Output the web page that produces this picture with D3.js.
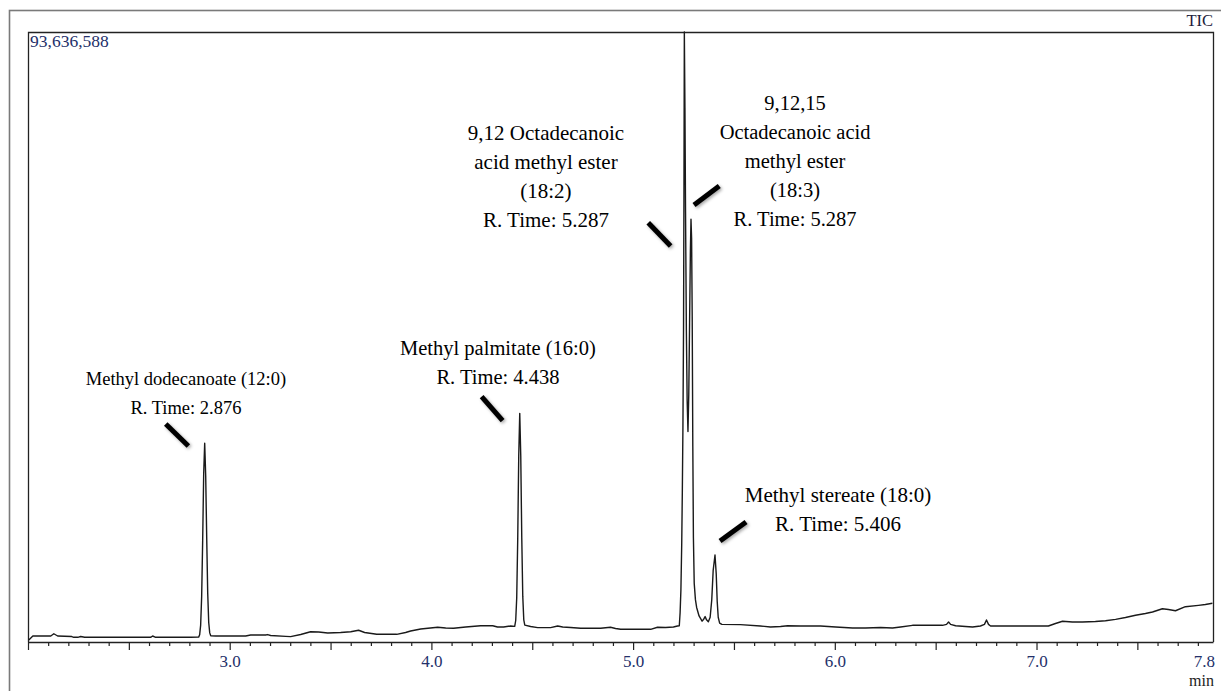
<!DOCTYPE html>
<html>
<head>
<meta charset="utf-8">
<script src="https://cdn.jsdelivr.net/npm/d3@7"></script>
<style>
  html, body { margin: 0; padding: 0; background: #fff; }
  svg { display: block; }
  text { font-family: "Liberation Serif", "Times New Roman", serif; }
</style>
</head>
<body>
<svg id="chart" width="1221" height="691"></svg>
<script>
// Total ion chromatogram (TIC) of fatty-acid methyl esters
// retention time in minutes
const retTime = [
  2.004, 2.024, 2.113, 2.128, 2.147, 2.217, 2.227, 2.247, 2.261, 2.281,
  2.460, 2.608, 2.618, 2.633, 2.807, 2.846, 2.851, 2.856, 2.861, 2.866,
  2.871, 2.876, 2.881, 2.886, 2.891, 2.896, 2.901, 2.906, 2.931, 3.079,
  3.104, 3.178, 3.188, 3.203, 3.278, 3.302, 3.352, 3.401, 3.441, 3.486,
  3.550, 3.600, 3.639, 3.669, 3.729, 3.828, 3.872, 3.897, 3.947, 4.031,
  4.071, 4.110, 4.170, 4.244, 4.304, 4.328, 4.358, 4.393, 4.413, 4.418,
  4.423, 4.428, 4.433, 4.438, 4.443, 4.448, 4.453, 4.458, 4.463, 4.492,
  4.527, 4.591, 4.626, 4.651, 4.690, 4.740, 4.839, 4.888, 4.913, 4.938,
  5.087, 5.121, 5.161, 5.200, 5.220, 5.229, 5.233, 5.237, 5.241, 5.244,
  5.247, 5.250, 5.252, 5.254, 5.257, 5.260, 5.264, 5.268, 5.272, 5.276,
  5.280, 5.284, 5.287, 5.290, 5.293, 5.296, 5.299, 5.303, 5.309, 5.315,
  5.327, 5.342, 5.350, 5.357, 5.364, 5.373, 5.382, 5.390, 5.397, 5.406,
  5.412, 5.417, 5.422, 5.429, 5.440, 5.532, 5.631, 5.681, 5.731, 5.766,
  5.830, 5.929, 6.004, 6.088, 6.152, 6.227, 6.286, 6.326, 6.385, 6.475,
  6.534, 6.554, 6.564, 6.574, 6.599, 6.648, 6.683, 6.722, 6.742, 6.752,
  6.762, 6.772, 6.871, 7.059, 7.094, 7.129, 7.178, 7.228, 7.292, 7.342,
  7.392, 7.441, 7.491, 7.540, 7.575, 7.624, 7.654, 7.689, 7.738, 7.803,
  7.837, 7.872
];
// ion abundance, millions of counts
const abundance = [
  0.31, 0.92, 0.92, 1.27, 0.92, 0.84, 0.72, 0.72, 0.84, 0.72,
  0.72, 0.72, 0.92, 0.72, 0.72, 0.75, 1.10, 2.60, 7.00, 15.6,
  25.8, 30.5, 25.5, 16.0, 7.50, 3.00, 1.40, 0.95, 0.92, 0.92,
  1.07, 1.07, 1.14, 1.00, 0.87, 0.83, 1.15, 1.58, 1.54, 1.38,
  1.46, 1.58, 1.80, 1.46, 1.18, 1.18, 1.46, 1.69, 2.00, 2.26,
  2.15, 2.10, 2.30, 2.50, 2.50, 2.30, 2.30, 2.46, 2.40, 3.30,
  6.80, 15.9, 28.6, 35.1, 28.6, 16.0, 7.00, 3.40, 2.60, 2.38,
  2.20, 2.20, 2.46, 2.30, 2.23, 2.10, 2.10, 2.26, 2.07, 1.95,
  1.95, 2.26, 2.23, 2.30, 2.46, 2.50, 4.50, 8.00, 15.0, 23.0,
  33.0, 48.0, 68.0, 93.636588, 82.0, 66.0, 48.0, 37.0, 32.3, 38.0,
  49.0, 60.0, 64.9, 62.0, 50.0, 30.0, 16.0, 9.00, 6.50, 5.30,
  4.00, 3.20, 3.50, 3.90, 3.40, 3.10, 3.80, 6.50, 11.0, 13.35,
  10.5, 6.20, 3.80, 2.90, 2.70, 2.66, 2.46, 2.30, 2.38, 2.50,
  2.46, 2.46, 2.30, 2.15, 2.15, 2.23, 2.15, 2.30, 2.56, 2.56,
  2.56, 2.70, 3.07, 2.70, 2.50, 2.38, 2.30, 2.46, 2.70, 3.38,
  2.70, 2.46, 2.46, 2.46, 2.84, 3.18, 3.07, 3.07, 3.15, 3.27,
  3.48, 3.76, 4.10, 4.37, 4.61, 5.11, 4.99, 4.80, 5.42, 5.63,
  5.76, 5.94
];

// axis
const timeRange = [2.0, 7.875];
const fullScale = 93.636588;          // millions of counts at the top of the frame
const fullScaleLabel = "93,636,588";
const tickLabels = [3.0, 4.0, 5.0, 6.0, 7.0];
const endTickLabel = "7.8";

// peak annotations
const peakNames = [
  ["Methyl dodecanoate (12:0)"],
  ["Methyl palmitate (16:0)"],
  ["9,12 Octadecanoic", "acid methyl ester", "(18:2)"],
  ["9,12,15", "Octadecanoic acid", "methyl ester", "(18:3)"],
  ["Methyl stereate (18:0)"]
];
const peakRetTimes = ["2.876", "4.438", "5.287", "5.287", "5.406"];

// label placement in chart units (time, abundance) – text anchor and leader ends
const labelAnchor = [
  [2.783, 39.45], [4.330, 44.05], [4.568, 77.06], [5.803, 81.66], [6.016, 21.49]
];
const labelSize = [18.5, 20.5, 21, 20.5, 21];
const leaderFrom = [
  [2.683, 33.46], [4.249, 37.65], [5.075, 64.36], [5.302, 67.08], [5.431, 15.50]
];
const leaderTo = [
  [2.795, 30.09], [4.353, 33.97], [5.186, 60.79], [5.427, 70.00], [5.560, 18.42]
];

const svg = d3.select("#chart");
const frame = { left: 28, top: 32, right: 1213, bottom: 642 };

const x = d3.scaleLinear().domain(timeRange).range([frame.left, frame.right]);
const y = d3.scaleLinear().domain([0, fullScale]).range([frame.bottom, frame.top]);

const defs = svg.append("defs");
const shadow = defs.append("filter").attr("id", "soft")
  .attr("x", "-50%").attr("y", "-50%").attr("width", "200%").attr("height", "200%");
shadow.append("feDropShadow").attr("dx", 1.5).attr("dy", 1.5)
  .attr("stdDeviation", 1.6).attr("flood-color", "#000").attr("flood-opacity", 0.35);

defs.append("clipPath").attr("id", "plotClip").append("rect")
  .attr("x", frame.left).attr("y", frame.top - 1)
  .attr("width", frame.right - frame.left).attr("height", frame.bottom - frame.top + 1);

// outer panel border
svg.append("rect")
  .attr("x", 9.5).attr("y", 10.5).attr("width", 1240).attr("height", 720)
  .attr("fill", "none").attr("stroke", "#7a7a7a").attr("stroke-width", 1.6);

// plot frame (top, left, right)
svg.append("path")
  .attr("d", `M${frame.left + 0.5},${frame.bottom}V${frame.top + 0.5}H${frame.right + 0.5}V${frame.bottom}`)
  .attr("fill", "none").attr("stroke", "#222").attr("stroke-width", 1.3);

// time axis: minor ticks every 0.1 min, longer ticks every 0.5 min
const tickVals = d3.range(20, 79).map(d => d / 10);
const axisG = svg.append("g").attr("transform", `translate(0,${frame.bottom})`);
axisG.call(d3.axisBottom(x).tickValues(tickVals).tickSize(4).tickSizeOuter(0).tickFormat(""));
axisG.selectAll(".tick line")
  .attr("y2", d => (Math.round(d * 10) % 5 === 0 ? 8 : 4))
  .attr("stroke", "#222").attr("stroke-width", 1.2);
axisG.select(".domain").attr("stroke", "#222").attr("stroke-width", 1.3);

const labelG = svg.append("g").attr("transform", `translate(0,${frame.bottom})`);
labelG.call(d3.axisBottom(x).tickValues(tickLabels).tickSize(0).tickFormat(d3.format(".1f")));
labelG.select(".domain").remove();
labelG.selectAll(".tick text")
  .attr("y", 25).attr("dy", 0)
  .attr("font-size", 17).attr("fill", "#24306a");

svg.append("text")
  .attr("x", frame.right + 2).attr("y", frame.bottom + 25)
  .attr("text-anchor", "end").attr("font-size", 17).attr("fill", "#24306a")
  .text(endTickLabel);
svg.append("text")
  .attr("x", frame.right + 1).attr("y", frame.bottom + 44)
  .attr("text-anchor", "end").attr("font-size", 16).attr("fill", "#222")
  .text("min");

// full-scale value and trace name
svg.append("text")
  .attr("x", frame.left + 2).attr("y", frame.top + 15)
  .attr("font-size", 17.5).attr("fill", "#24306a")
  .text(fullScaleLabel);
svg.append("text")
  .attr("x", frame.right).attr("y", frame.top - 6)
  .attr("text-anchor", "end").attr("font-size", 16.5).attr("fill", "#1e1e3c")
  .text("TIC");

// chromatogram trace
const trace = retTime.map((t, i) => [t, abundance[i]]);
svg.append("path")
  .datum(trace)
  .attr("clip-path", "url(#plotClip)")
  .attr("fill", "none")
  .attr("stroke", "#1a1a1a")
  .attr("stroke-width", 1.4)
  .attr("stroke-linejoin", "round")
  .attr("d", d3.line().x(d => x(d[0])).y(d => y(d[1])));

// peak labels
const lineGap = 29;
peakNames.forEach((lines, i) => {
  const ax = x(labelAnchor[i][0]);
  const ay = y(labelAnchor[i][1]);
  const t = svg.append("text")
    .attr("text-anchor", "middle")
    .attr("font-size", labelSize[i])
    .attr("fill", "#000");
  lines.concat([`R. Time: ${peakRetTimes[i]}`]).forEach((s, k) => {
    t.append("tspan").attr("x", ax).attr("y", ay + k * lineGap).text(s);
  });
  svg.append("line")
    .attr("x1", x(leaderFrom[i][0])).attr("y1", y(leaderFrom[i][1]))
    .attr("x2", x(leaderTo[i][0])).attr("y2", y(leaderTo[i][1]))
    .attr("stroke", "#000").attr("stroke-width", 5)
    .attr("filter", "url(#soft)");
});
</script>
</body>
</html>
